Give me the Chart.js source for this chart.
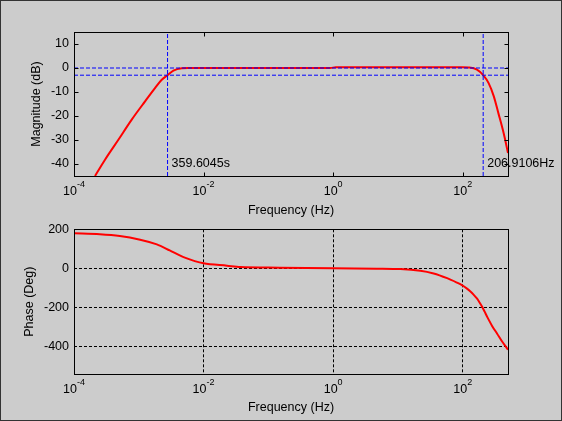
<!DOCTYPE html>
<html><head><meta charset="utf-8">
<script src="https://cdn.jsdelivr.net/npm/chart.js@4/dist/chart.umd.min.js"></script>
<style>
html,body{margin:0;padding:0;}
body{width:562px;height:421px;background:#cccccc;position:relative;overflow:hidden;}
canvas{position:absolute;left:0;}
#frame{position:absolute;left:0;top:0;width:562px;height:421px;box-sizing:border-box;border:1px solid #333;pointer-events:none;}
</style></head><body>
<canvas id="mag" width="562" height="222" style="top:0;width:562px;height:222px"></canvas>
<canvas id="ph" width="562" height="206" style="top:215px;width:562px;height:206px"></canvas>
<div id="frame"></div>
<script>
// ---- data ----
const magFreq = [0.000211, 0.000301, 0.000484, 0.000778, 0.00125, 0.00179, 0.00226, 0.00278, 0.00342, 0.00461, 0.00575, 0.01, 0.1, 0.9, 1.1, 10, 100, 123, 166, 207, 251, 302, 355, 427, 500];
const magDb   = [-45, -38.2, -29.9, -21.5, -13.9, -8.3, -4.9, -3, -1.1, -0.1, 0, 0, 0, 0, 0.3, 0.3, 0.3, 0.2, -0.7, -3, -6.3, -11.8, -18.8, -27, -35.4];
const phaseFreq = [0.0001, 0.00025, 0.00051, 0.00105, 0.0019, 0.003, 0.0049, 0.01, 0.023, 0.037, 0.15, 1, 4.7, 10.9, 22.2, 35.6, 57.4, 81.8, 100, 115, 131.5, 148, 166.7, 182, 199.5, 218, 238, 284, 340, 406, 500];
const phaseDeg  = [180, 175, 166, 147, 123, 92, 58, 26, 14, 7, 4, 0.5, -1.5, -3.5, -12, -26, -50, -73, -88, -102, -118, -135, -155, -174, -196, -221, -247, -294, -334, -374, -416];
const xTickExponents = [-4, -2, 0, 2];
const magTicks = [-40, -30, -20, -10, 0, 10];
const phaseTicks = [-400, -200, 0, 200];
const cutoffLowHz = 0.0027808;
const cutoffHighHz = 206.9106;
const cutoffLowLabel = '359.6045s';
const cutoffHighLabel = '206.9106Hz';
const refLevelsDb = [0, -3];
const freqMin = 0.0001, freqMax = 500;
const magMin = -45, magMax = 15;
const phaseMin = -540, phaseMax = 200;
const xTitle = 'Frequency (Hz)';
const magTitle = 'Magnitude (dB)';
const phaseTitle = 'Phase (Deg)';

// ---- styling ----
const FONT = 'Liberation Sans, Arial, Helvetica, sans-serif';
const RED = '#ff0000', BLUE = '#0000ff';

function pts(xs, ys) { return xs.map((x, i) => ({x: x, y: ys[i]})); }

function boxPlugin(opts) {
  return {
    id: 'box' + opts.id,
    afterDraw(chart) {
      const ctx = chart.ctx, a = chart.chartArea;
      const xs = chart.scales.x, ys = chart.scales.y;
      ctx.save();
      ctx.strokeStyle = '#000';
      ctx.lineWidth = 1;
      const L = Math.round(a.left) + 0.5, T = Math.round(a.top) + 0.5;
      const R = Math.round(a.right) + 0.5, B = Math.round(a.bottom) + 0.5;
      ctx.strokeRect(L, T, R - L, B - T);
      if (opts.inwardTicks) {
        const tl = 4;
        ctx.beginPath();
        xTickExponents.forEach(e => {
          const px = Math.round(xs.getPixelForValue(Math.pow(10, e))) + 0.5;
          ctx.moveTo(px, B); ctx.lineTo(px, B - tl);
          ctx.moveTo(px, T); ctx.lineTo(px, T + tl);
        });
        opts.yTicks.forEach(v => {
          const py = Math.round(ys.getPixelForValue(v)) + 0.5;
          ctx.moveTo(L, py); ctx.lineTo(L + tl, py);
          ctx.moveTo(R, py); ctx.lineTo(R - tl, py);
        });
        ctx.stroke();
      }
      // x tick labels with superscript exponents
      ctx.fillStyle = '#000';
      ctx.textBaseline = 'middle';
      ctx.textAlign = 'left';
      xTickExponents.forEach(e => {
        const px = xs.getPixelForValue(Math.pow(10, e));
        ctx.font = '12.5px ' + FONT;
        const w1 = ctx.measureText('10').width;
        ctx.font = '9px ' + FONT;
        const expTxt = String(e);
        const w2 = ctx.measureText(expTxt).width;
        const start = px - (w1 + w2) / 2;
        ctx.font = '12.5px ' + FONT;
        ctx.fillText('10', start, a.bottom + 15.5);
        ctx.font = '9px ' + FONT;
        ctx.fillText(expTxt, start + w1, a.bottom + 8.5);
      });
      if (opts.labels) {
        ctx.font = '12.5px ' + FONT;
        ctx.fillStyle = '#000';
        ctx.textBaseline = 'middle';
        opts.labels.forEach(l => {
          ctx.fillText(l.text, xs.getPixelForValue(l.x) + 4, ys.getPixelForValue(l.y));
        });
      }
      ctx.restore();
    }
  };
}

function xAxis(height, titlePadBottom, withGrid) {
  return {
    type: 'logarithmic',
    min: freqMin, max: freqMax,
    afterBuildTicks: s => { s.ticks = xTickExponents.map(e => ({value: Math.pow(10, e)})); },
    afterFit: s => { s.height = height; },
    ticks: {display: false},
    grid: {display: withGrid, color: '#000', lineWidth: 1, drawTicks: false},
    border: {display: false, dash: [3, 2]},
    title: {display: true, text: xTitle, color: '#000', font: {family: FONT, size: 12.5}, padding: {top: 0, bottom: titlePadBottom}}
  };
}
function yAxis(min, max, ticks, title, titlePadTop, withGrid) {
  return {
    type: 'linear', min: min, max: max,
    afterBuildTicks: s => { s.ticks = ticks.map(v => ({value: v})); },
    afterFit: s => { s.width = 74; },
    ticks: {color: '#000', font: {family: FONT, size: 12.5}, padding: 5, callback: v => String(v)},
    grid: {display: withGrid, color: '#000', lineWidth: 1, drawTicks: false},
    border: {display: false, dash: [3, 2]},
    title: {display: true, text: title, color: '#000', font: {family: FONT, size: 12.5}, padding: {top: titlePadTop, bottom: 0}}
  };
}

const common = {
  responsive: false, animation: false, devicePixelRatio: 1,
  plugins: {legend: {display: false}, tooltip: {enabled: false}},
  elements: {point: {radius: 0}}
};

new Chart(document.getElementById('mag'), {
  type: 'line',
  data: {
    datasets: [
      {data: [{x: freqMin, y: refLevelsDb[0]}, {x: freqMax, y: refLevelsDb[0]}], borderColor: BLUE, borderWidth: 1, borderDash: [4, 2]},
      {data: [{x: freqMin, y: refLevelsDb[1]}, {x: freqMax, y: refLevelsDb[1]}], borderColor: BLUE, borderWidth: 1, borderDash: [4, 2]},
      {data: [{x: cutoffLowHz, y: magMin}, {x: cutoffLowHz, y: magMax}], borderColor: BLUE, borderWidth: 1, borderDash: [4, 2]},
      {data: [{x: cutoffHighHz, y: magMin}, {x: cutoffHighHz, y: magMax}], borderColor: BLUE, borderWidth: 1, borderDash: [4, 2]},
      {data: pts(magFreq, magDb), borderColor: RED, borderWidth: 2, cubicInterpolationMode: 'monotone'}
    ]
  },
  options: Object.assign({}, common, {
    layout: {padding: {left: 0, right: 54, top: 32, bottom: 0}},
    scales: {
      x: xAxis(46, 4.2, false),
      y: yAxis(magMin, magMax, magTicks, magTitle, 29.5, false)
    }
  }),
  plugins: [boxPlugin({id: 'mag', inwardTicks: true, yTicks: magTicks,
    labels: [{text: cutoffLowLabel, x: cutoffLowHz, y: -40}, {text: cutoffHighLabel, x: cutoffHighHz, y: -40}]})]
});

new Chart(document.getElementById('ph'), {
  type: 'line',
  data: {
    datasets: [
      {data: pts(phaseFreq, phaseDeg), borderColor: RED, borderWidth: 2, tension: 0.3}
    ]
  },
  options: Object.assign({}, common, {
    layout: {padding: {left: 0, right: 54, top: 14.3, bottom: 0}},
    scales: {
      x: xAxis(47, 5.8, true),
      y: yAxis(phaseMin, phaseMax, phaseTicks, phaseTitle, 22.5, true)
    }
  }),
  plugins: [boxPlugin({id: 'ph', inwardTicks: false, yTicks: phaseTicks})]
});
</script>
</body></html>
